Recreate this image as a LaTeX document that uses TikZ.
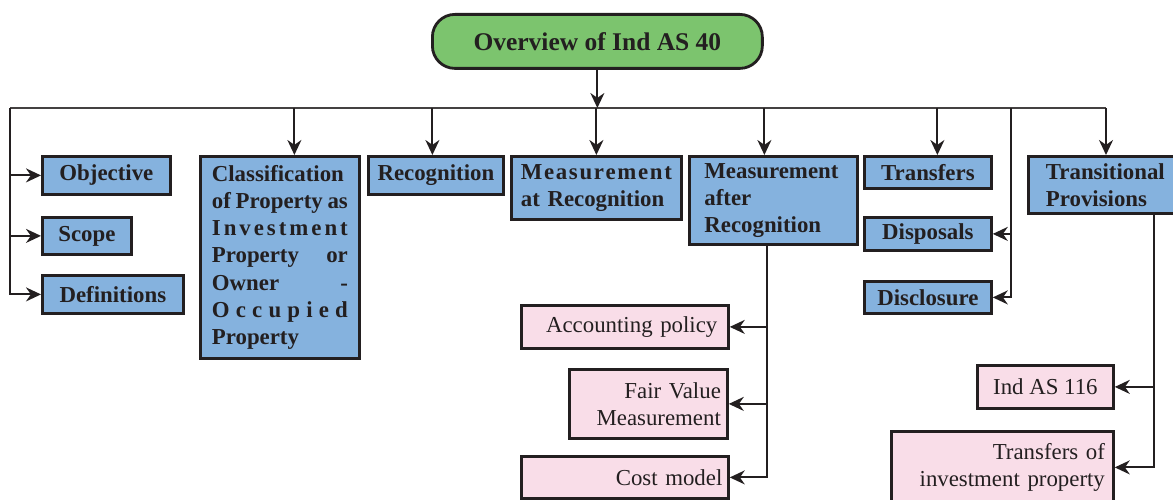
\documentclass[tikz,border=0pt]{standalone}
\usepackage{fontspec}
\setmainfont{Liberation Serif}
\usepackage{xcolor}
\usetikzlibrary{arrows.meta}
\definecolor{boxblue}{RGB}{133,178,222}
\definecolor{boxgreen}{RGB}{124,196,110}
\definecolor{boxpink}{RGB}{249,221,232}
\definecolor{ink}{RGB}{35,31,32}
\tikzset{
  blk/.style={draw=ink,line width=1.6pt,fill=boxblue,anchor=north west,inner sep=0pt,text=ink,
    font=\fontsize{13pt}{15.4pt}\selectfont\bfseries},
  pnk/.style={draw=ink,line width=1.6pt,fill=boxpink,anchor=north west,inner sep=0pt,text=ink,
    font=\fontsize{13pt}{15.4pt}\selectfont},
  ttl/.style={draw=ink,line width=1.6pt,fill=boxgreen,anchor=north west,inner sep=0pt,text=ink,
    rounded corners=0.45cm,font=\fontsize{14.5pt}{17pt}\selectfont\bfseries},
  arr/.style={line width=1.1pt,draw=ink,-{Stealth[length=3mm,width=2.8mm]}},
  ln/.style={line width=1pt,draw=ink!85}
}
\newcommand{\spr}[2][2.72cm]{\makebox[#1][s]{#2}}

\begin{document}
\begin{tikzpicture}[x=0.02cm,y=-0.02cm]
\useasboundingbox (0,0) rectangle (1173,500);
\clip (0,0) rectangle (1173,500);
\node[ttl,minimum width=6.6cm,minimum height=1.08cm] (title) at (431,13) {Overview of Ind AS 40};
\node[blk,minimum width=2.56cm,minimum height=0.76cm] (obj) at (41,155) {Objective};
\node[blk,minimum width=1.78cm,minimum height=0.74cm] (scope) at (41,216) {Scope};
\node[blk,minimum width=2.82cm,minimum height=0.76cm] (defn) at (41,274) {Definitions};
\node[blk,minimum width=3.18cm,minimum height=4.04cm,text width=2.72cm,align=left] (cls) at (199,155)
  {Classification\\ \spr{of\hfill Property\hfill as}\\ \spr{I\hfill n\hfill v\hfill e\hfill s\hfill t\hfill m\hfill e\hfill n\hfill t}\\
   \spr{Property\hfill or}\\ \spr{Owner\hfill -}\\ \spr{O\hfill c\hfill c\hfill u\hfill p\hfill i\hfill e\hfill d}\\ Property};
\node[blk,minimum width=2.7cm,minimum height=0.76cm] (rec) at (367,155) {Recognition};
\node[blk,minimum width=3.4cm,minimum height=1.26cm,text width=3.02cm,align=left] (mar) at (510,155)
  {\spr[3.02cm]{M\hfill e\hfill a\hfill s\hfill u\hfill r\hfill e\hfill m\hfill e\hfill n\hfill t}\\ at Recognition};
\node[blk,minimum width=3.36cm,minimum height=1.76cm,text width=2.76cm,align=left] (maft) at (688,155)
  {Measurement\\ after\\ Recognition};
\node[blk,minimum width=2.54cm,minimum height=0.64cm] (trf) at (863,155) {Transfers};
\node[blk,minimum width=2.54cm,minimum height=0.66cm] (disp) at (863,216) {Disposals};
\node[blk,minimum width=2.54cm,minimum height=0.64cm] (discl) at (863,280) {Disclosure};
\node[blk,minimum width=3.2cm,minimum height=1.14cm,text width=2.5cm,align=left] (trans) at (1027,155)
  {Transitional\\ Provisions};
\node[pnk,minimum width=4.14cm,minimum height=0.86cm,text width=3.7cm,align=right] (acc) at (520,304) {Accounting policy};
\node[pnk,minimum width=3.16cm,minimum height=1.38cm,text width=2.9cm,align=right] (fvm) at (568,368) {Fair Value\\ Measurement};
\node[pnk,minimum width=4.14cm,minimum height=0.84cm,text width=3.9cm,align=right] (cost) at (520,455) {Cost model};
\node[pnk,minimum width=2.72cm,minimum height=0.86cm] (ias) at (976,364) {Ind AS 116};
\node[pnk,minimum width=4.44cm,minimum height=1.44cm,text width=4.1cm,align=right] (tip) at (890,430)
  {Transfers of\\ investment property};
\coordinate (busL) at (10,108);
\coordinate (busR) at (1106,108);
\coordinate (busD) at (1011,108);
\coordinate (clsin) at ([xshift=0.29cm]cls.north);
\coordinate (recin) at ([xshift=-0.07cm]rec.north);
\coordinate (maftin) at ([xshift=-0.18cm]maft.north);
\coordinate (trfin) at ([xshift=0.19cm]trf.north);
\coordinate (maftT) at ([xshift=-0.12cm]maft.south);
\coordinate (transT) at ([xshift=0.92cm]trans.south);
\draw[ln] (busL) -- (busR);
\draw[arr] (title.south) -- (title.south |- busL);
\draw[arr] (busL) |- (defn.west);
\draw[arr] (busL |- obj.west) -- (obj.west);
\draw[arr] (busL |- scope.west) -- (scope.west);
\draw[arr] (clsin |- busL) -- (clsin);
\draw[arr] (recin |- busL) -- (recin);
\draw[arr] (mar.north |- busL) -- (mar.north);
\draw[arr] (maftin |- busL) -- (maftin);
\draw[arr] (trfin |- busL) -- (trfin);
\draw[arr] (busR) -- (busR |- trans.north);
\draw[arr] (busD) |- (discl.east);
\draw[arr] (busD |- disp.east) -- (disp.east);
\draw[arr] (maftT) |- (cost.east);
\draw[arr] (maftT |- acc.east) -- (acc.east);
\draw[arr] (maftT |- fvm.east) -- (fvm.east);
\draw[arr] (transT) |- (tip.east);
\draw[arr] (transT |- ias.east) -- (ias.east);
\end{tikzpicture}
\end{document}
